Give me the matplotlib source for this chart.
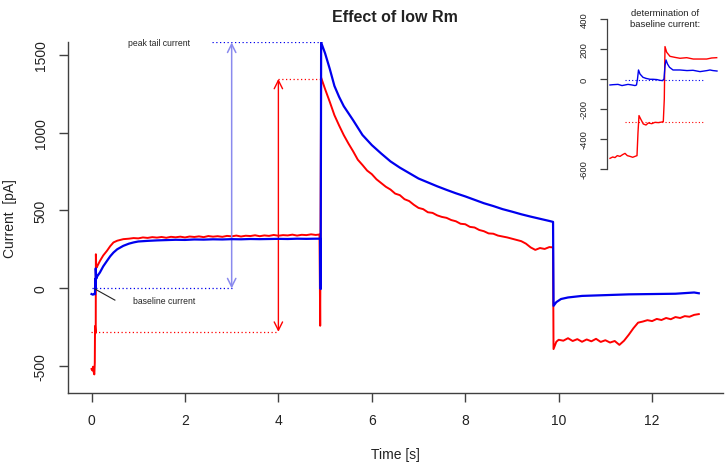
import matplotlib
matplotlib.use('Agg')
import matplotlib.pyplot as plt
import numpy as np

plt.rcParams['font.family'] = ['Liberation Sans', 'DejaVu Sans']
plt.rcParams['axes.unicode_minus'] = False

# main traces, time [s] and current [pA]
red_t = [0.0, 0.02, 0.035, 0.05, 0.06, 0.07, 0.075, 0.085, 0.09, 0.093, 0.1, 0.11,
         0.18, 0.25, 0.33, 0.4, 0.47, 0.55, 0.68,
         0.8, 0.9, 1.0, 1.1, 1.2, 1.3, 1.4, 1.5, 1.6, 1.7, 1.8, 1.9, 2.0, 2.1, 2.2, 2.3,
         2.4, 2.5, 2.6, 2.7, 2.8, 2.9, 3.0, 3.1, 3.2, 3.3, 3.4, 3.5, 3.6, 3.7, 3.8, 3.9,
         4.0, 4.1, 4.2, 4.3, 4.4, 4.5, 4.6, 4.7, 4.8, 4.88,
         4.895, 4.915,
         5.0, 5.1, 5.2, 5.3, 5.4, 5.5, 5.6, 5.7, 5.8, 5.9, 6.0, 6.1, 6.2, 6.3, 6.4, 6.5,
         6.6, 6.7, 6.8, 6.9, 7.0, 7.1, 7.2, 7.3, 7.4, 7.5, 7.6, 7.7, 7.8, 7.9, 8.0, 8.1,
         8.2, 8.3, 8.4, 8.5, 8.6, 8.7, 8.8, 8.9, 9.0, 9.1, 9.2, 9.3, 9.4, 9.5, 9.6, 9.7,
         9.8, 9.88,
         9.89, 9.95, 10.0, 10.1, 10.2, 10.3, 10.4, 10.5, 10.6, 10.7, 10.8, 10.9, 11.0,
         11.1, 11.2, 11.3, 11.4, 11.5, 11.6, 11.7, 11.8, 11.9, 12.0, 12.1, 12.2, 12.3,
         12.4, 12.5, 12.6, 12.7, 12.8, 12.9, 13.0]
red_i = [-520, -530, -505, -545, -555, -480, -244, -290, -284, 218, 150, 133,
         175, 210, 240, 270, 294, 305, 315,
         318, 322, 320, 326, 323, 328, 325, 329, 324, 330, 327, 331, 326, 332, 329, 333,
         328, 335, 331, 334, 330, 336, 333, 338, 332, 337, 335, 340, 334, 339, 336, 342,
         337, 341, 339, 344, 338, 343, 341, 346, 342, 345,
         -242, 1354,
         1280, 1198, 1112, 1046, 984, 930, 880, 826, 792, 756, 733, 700, 676, 652, 634, 608,
         598, 572, 560, 536, 516, 508, 488, 484, 468, 458, 452, 438, 430, 414, 411, 394,
         390, 374, 366, 352, 350, 338, 332, 326, 318, 310, 302, 286, 262, 246, 258, 252,
         264, 262,
         -392, -345, -332, -338, -322, -340, -328, -345, -330, -342, -326, -346, -335,
         -350, -340, -365, -338, -300, -258, -222, -215, -206, -212, -198, -205, -192,
         -200, -186, -192, -180, -184, -172, -167]

blue_t = [0.0, 0.03, 0.06, 0.075, 0.078, 0.082, 0.088, 0.09, 0.1, 0.12,
          0.18, 0.25, 0.33, 0.4, 0.47, 0.55, 0.68, 0.8, 0.9,
          1.0, 1.2, 1.4, 1.6, 1.8, 2.0, 2.2, 2.4, 2.6, 2.8, 3.0, 3.2, 3.4, 3.6, 3.8,
          4.0, 4.2, 4.4, 4.6, 4.8, 4.9,
          4.905, 4.915,
          5.0, 5.1, 5.2, 5.3, 5.4, 5.5, 5.6, 5.8, 6.0, 6.2, 6.4, 6.6, 6.8, 7.0, 7.2,
          7.4, 7.6, 7.8, 8.0, 8.2, 8.4, 8.6, 8.8, 9.0, 9.2, 9.4, 9.6, 9.8, 9.88,
          9.89, 9.95, 10.05, 10.2, 10.5, 11.0, 11.5, 12.0, 12.5, 12.9, 13.0]
blue_i = [-38, -42, -36, -40, 60, 0, -8, 127, 60, 75,
          101, 140, 175, 205, 229, 250, 272, 286, 294,
          300, 304, 307, 309, 311, 310, 313, 312, 314, 313, 315, 314, 316, 315, 316,
          317, 316, 318, 317, 318, 318,
          -6, 1580,
          1510, 1410, 1300, 1230, 1170, 1125, 1080, 985, 920, 866, 815, 775, 740, 705, 680,
          655, 632, 610, 590, 568, 546, 528, 508, 492, 475, 460, 446, 432, 426,
          -114, -90, -70, -60, -50, -45, -40, -38, -36, -28, -33]

# inset: first ~100 ms of the traces
in_blue_t = [0, 3, 8, 12, 15, 18, 22, 25, 26.5, 27.5, 28.5, 30, 33, 36, 40, 43, 47,
             50, 52.5, 54, 55, 56, 57.5, 59.5, 63, 70, 77, 83, 90, 97, 100, 103, 107]
in_blue_i = [-40, -38, -36, -44, -40, -36, -40, -44, -40, 0, 60, 33, 11, 4, -2, -2, -4,
             -9, -11, 0, 89, 127, 100, 78, 60, 60, 56, 58, 49, 56, 60, 56, 53]
in_red_t = [0, 2.7, 5, 7.3, 10, 12.7, 15, 17.3, 20, 22.7, 25, 27, 28, 29, 30.7, 33.3,
            36, 38.3, 41.7, 45, 48.3, 51.7, 53.3, 54.3, 55, 56.7, 60, 65, 70, 76.7,
            83.3, 90, 96.7, 101.7, 106.7]
in_red_i = [-529, -520, -524, -511, -516, -504, -496, -511, -516, -522, -516, -511,
            -356, -244, -267, -300, -307, -293, -298, -289, -291, -287, -284, -133,
            216, 178, 151, 144, 138, 142, 133, 133, 133, 140, 142]

blue_base, blue_peak = -2, 1580
red_base, red_peak = -281, 1346
in_blue_base, in_red_base = -7, -289

RED = '#ff0000'
BLUE = '#0000ee'
AX = '#404040'

fig = plt.figure(figsize=(7.26, 4.64), dpi=100)
ax = fig.add_axes([0.093, 0.150, 0.903, 0.758])

ax.plot(red_t, red_i, color=RED, lw=1.4, zorder=3)
ax.plot(blue_t, blue_i, color=BLUE, lw=1.6, zorder=4)

# dotted guide lines
dots = (0, (1, 2))
ax.plot([0.0, 3.0], [blue_base, blue_base], color=BLUE, ls=dots, lw=0.9)
ax.plot([2.58, 4.93], [blue_peak, blue_peak], color=BLUE, ls=dots, lw=0.9)
ax.plot([-0.01, 4.0], [red_base, red_base], color=RED, ls=dots, lw=0.9)
ax.plot([4.0, 4.93], [red_peak, red_peak], color=RED, ls=dots, lw=0.9)

ax.annotate('', xy=(3.0, blue_peak), xytext=(3.0, blue_base),
            arrowprops=dict(arrowstyle='<->,head_length=0.6,head_width=0.3',
                            color='#8a8aee', lw=1.1, shrinkA=0, shrinkB=0))
ax.annotate('', xy=(4.0, red_peak), xytext=(4.0, red_base),
            arrowprops=dict(arrowstyle='<->,head_length=0.6,head_width=0.3',
                            color=RED, lw=1.0, shrinkA=0, shrinkB=0))

ax.text(0.78, 1581, 'peak tail current', fontsize=6.2, va='center', ha='left', color='#222222')
ax.plot([0.075, 0.50], [-6, -77], color='#222222', lw=0.8, zorder=5)
ax.text(0.89, -77, 'baseline current', fontsize=6.2, va='center', ha='left', color='#222222')

ax.set_xlim(-0.514, 13.52)
ax.set_ylim(-677, 1585)
ax.set_xticks([0, 2, 4, 6, 8, 10, 12])
ax.set_yticks([-500, 0, 500, 1000, 1500])
for s in ['top', 'right']:
    ax.spines[s].set_visible(False)
for s in ['left', 'bottom']:
    ax.spines[s].set_color(AX)
    ax.spines[s].set_linewidth(1.0)
ax.tick_params(direction='out', length=6.2, width=1.0, color=AX, labelsize=10,
               labelcolor='#222222', pad=8)
for lab in ax.get_yticklabels():
    lab.set_rotation(90)
    lab.set_va('center')

fig.text(395 / 726, 1 - 18 / 464, 'Effect of low Rm', ha='center', va='center',
         fontsize=11.5, fontweight='bold', color='#222222')
fig.text(395 / 726, 1 - 455 / 464, 'Time [s]', ha='center', va='center', fontsize=10,
         color='#222222')
fig.text(10 / 726, 1 - 218.5 / 464, 'Current  [pA]', ha='center', va='center',
         fontsize=10, rotation=90, color='#222222')

# inset
ins = fig.add_axes([606.7 / 726, 0.6175, 113.3 / 726, 0.3556])
ins.patch.set_alpha(0)
ins.plot(in_red_t, in_red_i, color=RED, lw=1.0)
ins.plot(in_blue_t, in_blue_i, color=BLUE, lw=1.0)
ins.plot([15, 93], [in_blue_base, in_blue_base], color=BLUE, ls=dots, lw=0.8)
ins.plot([15, 93], [in_red_base, in_red_base], color=RED, ls=dots, lw=0.8)
ins.set_xlim(-3.3, 110)
ins.set_ylim(-650, 450)
ins.set_xticks([])
ins.set_yticks([-600, -400, -200, 0, 200, 400])
for s in ['top', 'right', 'bottom']:
    ins.spines[s].set_visible(False)
ins.spines['left'].set_bounds(-600, 400)
ins.spines['left'].set_color(AX)
ins.spines['left'].set_linewidth(0.9)
ins.tick_params(direction='out', length=5, width=0.9, color=AX, labelsize=6.8,
                labelcolor='#222222', pad=8)
for lab in ins.get_yticklabels():
    lab.set_rotation(90)
    lab.set_va('center')
fig.text(665 / 726, 1 - 19 / 464, 'determination of\nbaseline current:', ha='center',
         va='center', fontsize=6.8, linespacing=1.3, color='#222222')

fig.savefig('out.png', dpi=100)
